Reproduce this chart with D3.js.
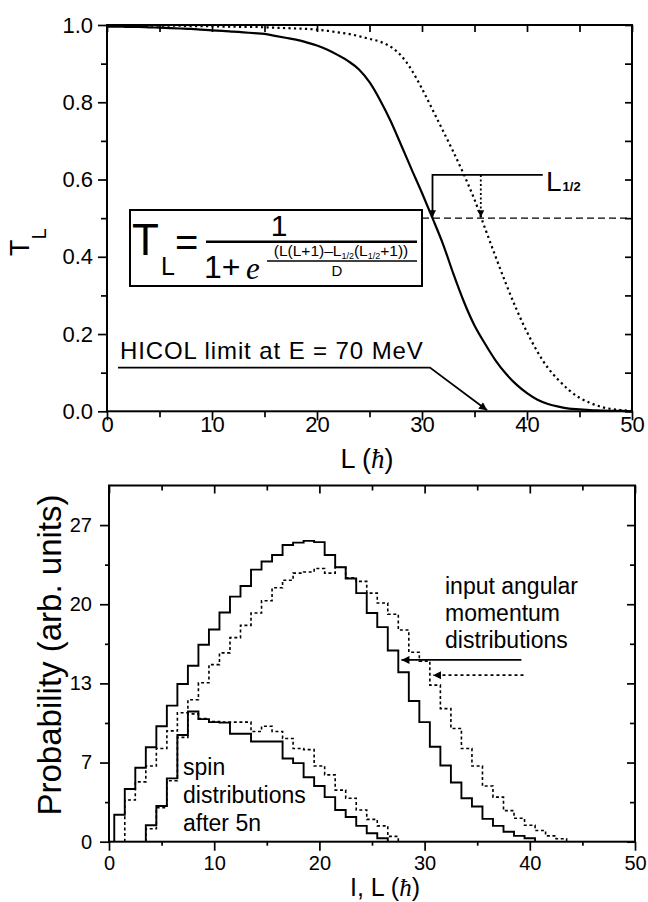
<!DOCTYPE html>
<html>
<head>
<meta charset="utf-8">
<script src="https://cdn.jsdelivr.net/npm/d3@7"></script>
<style>
  body { margin: 0; background: #fff; }
  svg text { font-family: "Liberation Sans", Arial, Helvetica, sans-serif; fill: #000; }
</style>
</head>
<body>
<svg id="chart" width="648" height="902"></svg>
<script>
// ---- top panel: transmission coefficient T_L ----
var tlL = [0,1,2,3,4,5,6,7,8,9,10,11,12,13,14,15,16,17,18,19,20,21,22,23,24,25,
           26,27,28,29,30,31,32,33,34,35,36,37,38,39,40,41,42,43,44,45,46,47,48,49,50];
var tlSolid = [0.996,0.996,0.995,0.995,0.994,0.993,0.992,0.991,0.990,0.988,
               0.986,0.985,0.983,0.981,0.979,0.977,0.972,0.967,0.962,0.955,
               0.947,0.936,0.922,0.906,0.885,0.852,0.806,0.752,0.690,0.627,
               0.565,0.500,0.433,0.355,0.283,0.222,0.175,0.132,0.097,0.069,
               0.047,0.030,0.019,0.012,0.007,0.005,0.003,0.002,0.001,0.001,0.000];
var tlDotted = [0.999,0.999,0.999,0.999,0.998,0.998,0.998,0.998,0.997,0.997,
                0.997,0.996,0.996,0.995,0.995,0.994,0.993,0.992,0.991,0.990,
                0.988,0.985,0.981,0.977,0.971,0.964,0.957,0.944,0.921,0.884,
                0.835,0.781,0.726,0.671,0.612,0.548,0.474,0.401,0.330,0.264,
                0.205,0.154,0.112,0.081,0.055,0.035,0.022,0.012,0.006,0.003,0.001];
var halfL = [31.0, 35.6];          // L_1/2 of the solid and dotted curves
var hicolL = 36.2;                 // HICOL limit at E = 70 MeV
var topXTicks = [0,10,20,30,40,50];
var topYTicks = [0,0.2,0.4,0.6,0.8,1.0];

// ---- bottom panel: angular momentum / spin distributions ----
var binL = [0,1,2,3,4,5,6,7,8,9,10,11,12,13,14,15,16,17,18,19,20,21,22,
            23,24,25,26,27,28,29,30,31,32,33,34,35,36,37,38,39,40,41,42,43,44];
var inputSolid = [0,2.3,4.5,6.3,8.05,9.85,11.6,13.45,15.0,16.8,
                  18.1,19.55,20.9,21.8,23.2,23.9,24.45,25.3,25.5,25.65,
                  25.55,24.45,23.4,22.45,21.2,19.5,18.3,16.3,14.45,12.0,
                  10.2,8.1,6.5,5.05,3.7,3.0,1.95,1.35,0.85,0.5,
                  0.3,0,0,0,0];
var inputDotted = [0,0,3.55,5.1,6.45,7.95,9.45,11.0,12.1,13.55,
                   15.1,16.1,17.4,18.45,19.5,20.55,21.65,22.3,22.9,23.0,
                   23.3,22.9,23.4,22.5,22.2,21.2,20.35,19.4,18.05,16.15,
                   15.4,13.35,11.35,9.65,7.95,6.45,4.75,3.8,2.65,2.0,
                   1.4,0.95,0.5,0.25,0];
var spinSolid = [0,0,0,0,1.4,3.05,5.4,9.1,11.1,10.45,
                 10.2,10.15,9.2,9.2,8.55,8.55,8.55,7.1,6.7,5.5,
                 4.75,3.8,2.7,2.1,1.35,0.72,0.3,0,0,0,
                 0,0,0,0,0,0,0,0,0,0,
                 0,0,0,0,0];
var spinDotted = [0,0,0,0,1.1,2.9,5.2,8.9,10.9,10.5,
                  10.25,10.2,10.2,10.2,9.4,9.85,9.4,8.8,7.95,7.85,
                  6.45,5.7,4.4,3.7,2.7,1.9,1.35,0.45,0,0,
                  0,0,0,0,0,0,0,0,0,0,
                  0,0,0,0,0];
var botXTicks = [0,10,20,30,40,50];
var botYTicks = [0,6.75,13.5,20.25,27];
var botYLabels = ["0","7","13","20","27"];
var inputText = ["input angular", "momentum", "distributions"];
var spinText = ["spin", "distributions", "after 5n"];

var svg = d3.select("#chart");

var defs = svg.append("defs");
function marker(id, w, h) {
    defs.append("marker")
        .attr("id", id)
        .attr("viewBox", "0 0 10 10")
        .attr("refX", 10).attr("refY", 5)
        .attr("markerUnits", "userSpaceOnUse")
        .attr("markerWidth", w).attr("markerHeight", h)
        .attr("orient", "auto")
        .append("path")
        .attr("d", "M0,0L10,5L0,10z")
        .attr("fill", "#000");
}
marker("arrow", 11, 8);
marker("arrowSmall", 8, 7);

// frame + ticks on all four sides
function drawAxes(x, y, o) {
    var g = svg.append("g");
    var xr = x.range(), yr = y.range();

    g.append("g").attr("transform", "translate(0," + yr[0] + ")")
        .call(d3.axisBottom(x).tickValues(o.xMajor).tickSizeInner(o.majorLen).tickSizeOuter(0)
            .tickPadding(o.xPad).tickFormat(d3.format("d")))
        .attr("font-size", o.fs).attr("font-family", null);
    g.append("g").attr("transform", "translate(0," + yr[0] + ")")
        .call(d3.axisBottom(x).tickValues(o.xMinor).tickSizeInner(o.minorLen).tickSizeOuter(0).tickFormat(""));

    g.append("g").attr("transform", "translate(" + xr[0] + ",0)")
        .call(d3.axisLeft(y).tickValues(o.yMajor).tickSizeInner(o.majorLen).tickSizeOuter(0)
            .tickPadding(o.yPad).tickFormat(function (d, i) { return o.yLabels[i]; }))
        .attr("font-size", o.fs).attr("font-family", null);
    g.append("g").attr("transform", "translate(" + xr[0] + ",0)")
        .call(d3.axisLeft(y).tickValues(o.yMinor).tickSizeInner(o.minorLen).tickSizeOuter(0).tickFormat(""));

    // inward ticks on top and right
    g.append("g").attr("transform", "translate(0," + yr[1] + ")")
        .call(d3.axisTop(x).tickValues(o.xMajor).tickSizeInner(-o.inMajor).tickSizeOuter(0).tickFormat(""));
    g.append("g").attr("transform", "translate(0," + yr[1] + ")")
        .call(d3.axisTop(x).tickValues(o.xMinor).tickSizeInner(-o.inMinor).tickSizeOuter(0).tickFormat(""));
    g.append("g").attr("transform", "translate(" + xr[1] + ",0)")
        .call(d3.axisRight(y).tickValues(o.yMajor).tickSizeInner(-o.inMajor).tickSizeOuter(0).tickFormat(""));
    g.append("g").attr("transform", "translate(" + xr[1] + ",0)")
        .call(d3.axisRight(y).tickValues(o.yMinor).tickSizeInner(-o.inMinor).tickSizeOuter(0).tickFormat(""));

    g.selectAll(".domain").remove();
    g.selectAll(".tick line").attr("stroke", "#000").attr("stroke-width", 1.7);
    g.append("rect")
        .attr("x", xr[0]).attr("y", yr[1])
        .attr("width", xr[1] - xr[0]).attr("height", yr[0] - yr[1])
        .attr("fill", "none").attr("stroke", "#000").attr("stroke-width", 2);
}

// ================= top panel =================
var xT = d3.scaleLinear().domain([0, 50]).range([107, 632]);
var yT = d3.scaleLinear().domain([0, 1]).range([411.3, 25]);

drawAxes(xT, yT, {
    xMajor: topXTicks, xMinor: [5, 15, 25, 35, 45],
    yMajor: topYTicks, yMinor: [0.1, 0.3, 0.5, 0.7, 0.9],
    yLabels: topYTicks.map(d3.format(".1f")),
    majorLen: 9, minorLen: 6, inMajor: 7, inMinor: 7,
    xPad: -4, yPad: 5, fs: 22
});

var curve = d3.line()
    .x(function (d, i) { return xT(tlL[i]); })
    .y(function (d) { return yT(d); })
    .curve(d3.curveMonotoneX);

svg.append("path").attr("d", curve(tlSolid))
    .attr("fill", "none").attr("stroke", "#000").attr("stroke-width", 2.2);
svg.append("path").attr("d", curve(tlDotted))
    .attr("fill", "none").attr("stroke", "#000").attr("stroke-width", 2.2)
    .attr("stroke-dasharray", "2.2,3.3");

// L_1/2 bracket
svg.append("line")
    .attr("x1", xT(30.0)).attr("x2", xT(50)).attr("y1", yT(0.5)).attr("y2", yT(0.5))
    .attr("stroke", "#000").attr("stroke-width", 1.4).attr("stroke-dasharray", "7,4");
svg.append("path")
    .attr("d", "M" + xT(41.5) + "," + yT(0.612) + "H" + xT(halfL[0]) + "V" + (yT(0.5) - 1))
    .attr("fill", "none").attr("stroke", "#000").attr("stroke-width", 1.8)
    .attr("marker-end", "url(#arrowSmall)");
svg.append("path")
    .attr("d", "M" + xT(halfL[1]) + "," + yT(0.612) + "V" + (yT(0.5) - 1))
    .attr("fill", "none").attr("stroke", "#000").attr("stroke-width", 1.8)
    .attr("stroke-dasharray", "2,2.5")
    .attr("marker-end", "url(#arrowSmall)");
svg.append("text").attr("x", 546).attr("y", 191).attr("font-size", 28)
    .call(function (t) {
        t.append("tspan").text("L");
        t.append("tspan").attr("font-size", 13).attr("font-weight", "bold").attr("dx", 1).text("1/2");
    });

// HICOL limit
svg.append("text").attr("x", 120).attr("y", 359).attr("font-size", 24)
    .attr("letter-spacing", 0.9)
    .text("HICOL limit at E = 70 MeV");
svg.append("path")
    .attr("d", "M" + xT(1.05) + "," + yT(0.113) + "H" + xT(30.76) + "L" + xT(hicolL) + "," + (yT(0) - 1))
    .attr("fill", "none").attr("stroke", "#000").attr("stroke-width", 1.8)
    .attr("marker-end", "url(#arrow)");

// formula box
var fb = svg.append("g");
fb.append("rect").attr("x", 130).attr("y", 210).attr("width", 292).attr("height", 76)
    .attr("fill", "#fff").attr("stroke", "#000").attr("stroke-width", 2);
fb.append("text").attr("x", 132).attr("y", 255).attr("font-size", 44).text("T");
fb.append("text").attr("x", 161).attr("y", 275).attr("font-size", 25).text("L");
fb.append("text").attr("x", 175).attr("y", 256).attr("font-size", 40).text("=");
fb.append("line").attr("x1", 206).attr("x2", 417).attr("y1", 241.7).attr("y2", 241.7)
    .attr("stroke", "#000").attr("stroke-width", 2.6);
fb.append("text").attr("x", 279).attr("y", 236).attr("font-size", 30).attr("text-anchor", "middle").text("1");
fb.append("text").attr("x", 204).attr("y", 278).attr("font-size", 32).text("1+");
fb.append("text").attr("x", 246).attr("y", 279).attr("font-size", 31)
    .style("font-family", "'Liberation Serif', serif").style("font-style", "italic").text("e");
fb.append("text").attr("x", 341).attr("y", 256).attr("font-size", 15.5).attr("text-anchor", "middle")
    .call(function (t) {
        t.append("tspan").text("(L(L+1)\u2013L");
        t.append("tspan").attr("font-size", 9).attr("dy", 3).text("1/2");
        t.append("tspan").attr("dy", -3).text("(L");
        t.append("tspan").attr("font-size", 9).attr("dy", 3).text("1/2");
        t.append("tspan").attr("dy", -3).text("+1))");
    });
fb.append("line").attr("x1", 267).attr("x2", 417).attr("y1", 261).attr("y2", 261)
    .attr("stroke", "#000").attr("stroke-width", 1.6);
fb.append("text").attr("x", 337).attr("y", 276).attr("font-size", 15).attr("text-anchor", "middle").text("D");

// axis titles
svg.append("text").attr("transform", "translate(29,256) rotate(-90)").attr("font-size", 27)
    .call(function (t) {
        t.append("tspan").text("T");
        t.append("tspan").attr("font-size", 20).attr("dy", 17).text("L");
    });
svg.append("text").attr("x", 367).attr("y", 468).attr("font-size", 27).attr("text-anchor", "middle")
    .call(function (t) {
        t.append("tspan").text("L (");
        t.append("tspan").style("font-family", "'Liberation Serif', serif").style("font-style", "italic").text("\u0127");
        t.append("tspan").text(")");
    });

// ================= bottom panel =================
var xB = d3.scaleLinear().domain([0, 50]).range([109, 635]);
var yB = d3.scaleLinear().domain([0, 30.375]).range([841.7, 485.5]);

drawAxes(xB, yB, {
    xMajor: botXTicks, xMinor: [5, 15, 25, 35, 45],
    yMajor: botYTicks, yMinor: [3.375, 10.125, 16.875, 23.625],
    yLabels: botYLabels,
    majorLen: 9, minorLen: 4, inMajor: 8, inMinor: 5,
    xPad: 5, yPad: 8, fs: 20
});

// histogram outline: bins centred on integer L, edges at L +/- 0.5
function stepPoints(vals) {
    var idx = vals.map(function (v, i) { return v > 0 ? i : -1; }).filter(function (i) { return i >= 0; });
    var i0 = idx[0], i1 = idx[idx.length - 1];
    var pts = [[binL[i0] - 0.5, 0]];
    for (var i = i0; i <= i1; i++) pts.push([binL[i] - 0.5, vals[i]]);
    pts.push([binL[i1] + 0.5, 0]);
    return pts;
}
var step = d3.line()
    .x(function (d) { return xB(d[0]); })
    .y(function (d) { return yB(d[1]); })
    .curve(d3.curveStepAfter);

[[inputSolid, null], [inputDotted, "3,2.6"], [spinSolid, null], [spinDotted, "3,2.6"]].forEach(function (s) {
    svg.append("path").attr("d", step(stepPoints(s[0])))
        .attr("fill", "none").attr("stroke", "#000")
        .attr("stroke-width", s[1] ? 1.6 : 1.9)
        .attr("stroke-dasharray", s[1]);
});

// arrows to the input distributions
svg.append("line")
    .attr("x1", xB(39.2)).attr("x2", xB(27.8)).attr("y1", yB(15.5)).attr("y2", yB(15.5))
    .attr("stroke", "#000").attr("stroke-width", 1.7).attr("marker-end", "url(#arrow)");
svg.append("line")
    .attr("x1", xB(39.4)).attr("x2", xB(30.8)).attr("y1", yB(14.2)).attr("y2", yB(14.2))
    .attr("stroke", "#000").attr("stroke-width", 1.7).attr("stroke-dasharray", "3,3")
    .attr("marker-end", "url(#arrow)");

svg.append("g").selectAll("text").data(inputText).enter().append("text")
    .attr("x", 445).attr("y", function (d, i) { return 594 + i * 27.2; })
    .attr("font-size", 23).text(function (d) { return d; });
svg.append("g").selectAll("text").data(spinText).enter().append("text")
    .attr("x", 183).attr("y", function (d, i) { return 775 + i * 27.8; })
    .attr("font-size", 23).text(function (d) { return d; });

svg.append("text").attr("transform", "translate(61,655) rotate(-90)").attr("font-size", 33)
    .attr("text-anchor", "middle").text("Probability (arb. units)");
svg.append("text").attr("x", 385).attr("y", 896).attr("font-size", 25).attr("text-anchor", "middle")
    .call(function (t) {
        t.append("tspan").text("I, L (");
        t.append("tspan").style("font-family", "'Liberation Serif', serif").style("font-style", "italic").text("\u0127");
        t.append("tspan").text(")");
    });
</script>
</body>
</html>
